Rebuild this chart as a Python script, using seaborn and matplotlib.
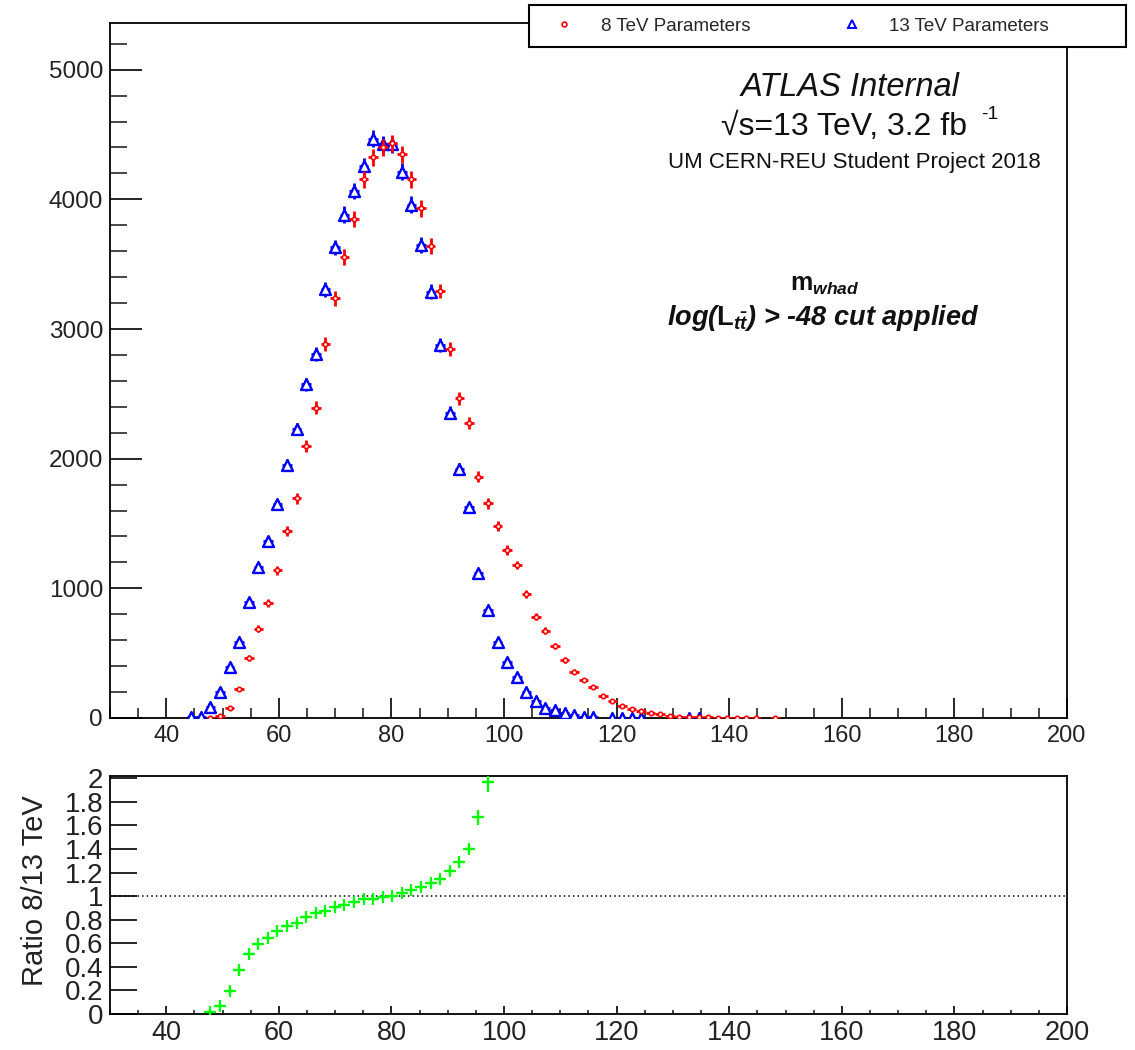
import numpy as np
import pandas as pd
import matplotlib
matplotlib.use("Agg")
import matplotlib.pyplot as plt
import seaborn as sns
from matplotlib.lines import Line2D
from matplotlib.patches import Rectangle
from matplotlib.ticker import MultipleLocator, FuncFormatter

# histogram binning: 100 bins between 30 and 200
BIN_LO, BIN_W = 30.0, 1.7

# m_whad counts, 8 TeV parameters (first bin index 10)
red_first_bin = 10
red_counts = [2, 15, 77, 223, 461, 689, 887, 1138, 1443, 1694,
              2100, 2393, 2884, 3236, 3556, 3847, 4153, 4323, 4400, 4431,
              4346, 4153, 3930, 3639, 3293, 2843, 2464, 2277, 1860, 1655,
              1481, 1295, 1180, 956, 781, 673, 556, 449, 357, 293,
              236, 172, 133, 93, 67, 54, 40, 28, 15, 10,
              10, 10, 8, 3, 3, 2, 2, 2, np.nan, 1]

# m_whad counts, 13 TeV parameters (first bin index 8)
blue_first_bin = 8
blue_counts = [10, 10, 87, 203, 396, 588, 897, 1166, 1366, 1650,
               1950, 2226, 2575, 2807, 3308, 3629, 3883, 4065, 4256, 4469,
               4423, 4425, 4212, 3960, 3647, 3287, 2875, 2354, 1924, 1627,
               1120, 832, 583, 434, 316, 197, 133, 79, 64, 36,
               23, 10, 10, np.nan, 3, 2, 2, 2, np.nan, np.nan,
               np.nan, np.nan, 1, 1]

# ratio 8/13 TeV (first bin index 10), only the bins inside [0, 2]
ratio_first_bin = 10
ratio_vals = [0.02, 0.07, 0.195, 0.37, 0.51, 0.59, 0.645, 0.70, 0.75, 0.77,
              0.82, 0.855, 0.874, 0.908, 0.925, 0.953, 0.98, 0.98, 0.995, 1.0,
              1.03, 1.056, 1.078, 1.11, 1.146, 1.21, 1.29, 1.40, 1.67, 1.97]

sns.set_theme(style="ticks")
plt.rcParams["font.family"] = ["Liberation Sans", "DejaVu Sans"]
plt.rcParams["mathtext.fontset"] = "custom"
plt.rcParams["mathtext.rm"] = "Liberation Sans"
plt.rcParams["mathtext.it"] = "Liberation Sans:italic"
plt.rcParams["mathtext.bf"] = "Liberation Sans:bold"
plt.rcParams["mathtext.bfit"] = "Liberation Sans:bold:italic"


def hist_frame(first, counts):
    n = len(counts)
    x = BIN_LO + BIN_W * (np.arange(n) + first + 0.5)
    df = pd.DataFrame({"mass": x, "count": np.asarray(counts, dtype=float)})
    return df.dropna()


red = hist_frame(red_first_bin, red_counts)
blue = hist_frame(blue_first_bin, blue_counts)
ratio = hist_frame(ratio_first_bin, ratio_vals)
# statistical error of the ratio from the two histograms
r_num = np.asarray(red_counts[:len(ratio_vals)], dtype=float)
off = ratio_first_bin - blue_first_bin
r_den = np.asarray(blue_counts[off:off + len(ratio_vals)], dtype=float)
ratio["err"] = ratio["count"].values * np.sqrt(1 / r_num + 1 / r_den)

fig = plt.figure(figsize=(11.35, 10.5), dpi=100)
ax = fig.add_axes([0.0969, 0.3162, 0.8432, 0.6619])
axr = fig.add_axes([0.0969, 0.0343, 0.8432, 0.2267])

# ---- main panel
ax.errorbar(blue["mass"], blue["count"], xerr=BIN_W / 2, yerr=np.sqrt(blue["count"]),
            fmt="none", ecolor="blue", elinewidth=2.0, capsize=0, zorder=2)
sns.scatterplot(data=blue, x="mass", y="count", marker="^", s=62, color="white",
                edgecolor="blue", linewidth=1.7, ax=ax, zorder=3)
ax.errorbar(red["mass"], red["count"], xerr=BIN_W / 2, yerr=np.sqrt(red["count"]),
            fmt="none", ecolor="red", elinewidth=2.0, capsize=0, zorder=4)
sns.scatterplot(data=red, x="mass", y="count", marker="o", s=10, color="white",
                edgecolor="red", linewidth=1.2, ax=ax, zorder=5)

ax.set_xlim(30, 200)
ax.set_ylim(0, 5360)
ax.set_xlabel("")
ax.set_ylabel("")
ax.xaxis.set_major_locator(MultipleLocator(20))
ax.xaxis.set_minor_locator(MultipleLocator(5))
ax.yaxis.set_major_locator(MultipleLocator(1000))
ax.yaxis.set_minor_locator(MultipleLocator(200))
ax.tick_params(axis="x", which="major", direction="in", length=14.4, width=1.2,
               labelsize=17, pad=5, color="black", labelcolor="#222222")
ax.tick_params(axis="x", which="minor", direction="in", length=7.2, width=1.2)
ax.tick_params(axis="y", which="major", direction="in", length=23, width=1.2,
               labelsize=17.5, pad=5, color="black", labelcolor="#222222")
ax.tick_params(axis="y", which="minor", direction="in", length=12, width=1.2)
for sp in ax.spines.values():
    sp.set_visible(True)
    sp.set_color("black")
    sp.set_linewidth(1.3)

# ---- ratio panel
axr.axhline(1.0, color="black", ls=(0, (1, 2)), lw=1.1, zorder=1)
axr.errorbar(ratio["mass"], ratio["count"], xerr=BIN_W / 2, yerr=ratio["err"],
             fmt="none", ecolor="#00ff00", elinewidth=1.6, capsize=0, zorder=2)
sns.scatterplot(data=ratio, x="mass", y="count", marker="+", s=80, color="#00ff00",
                linewidth=1.6, ax=axr, zorder=3)
axr.set_xlim(30, 200)
axr.set_ylim(0, 2.02)
axr.set_xlabel("")
axr.set_ylabel("")
axr.set_yticks(np.arange(0, 2.01, 0.2))
axr.yaxis.set_major_formatter(FuncFormatter(lambda v, p: "%g" % round(v, 1)))
axr.xaxis.set_major_locator(MultipleLocator(20))
axr.xaxis.set_minor_locator(MultipleLocator(5))
axr.tick_params(axis="x", which="major", direction="in", length=5.5, width=1.2,
                labelsize=19.5, pad=4, color="black", labelcolor="#222222")
axr.tick_params(axis="x", which="minor", direction="in", length=3, width=1.2)
axr.tick_params(axis="y", which="major", direction="in", length=19.5, width=1.2,
                labelsize=20, pad=5, color="black", labelcolor="#222222")
for sp in axr.spines.values():
    sp.set_visible(True)
    sp.set_color("black")
    sp.set_linewidth(1.3)
fig.text(0.0308, 0.1514, "Ratio 8/13 TeV", rotation=90, ha="center", va="center",
         fontsize=21, color="#222222")

# ---- legend box on top of the frame
fig.add_artist(Rectangle((0.4661, 0.9552), 0.526, 0.04, transform=fig.transFigure,
                         facecolor="white", edgecolor="black", lw=1.5, zorder=4))
handles = [Line2D([], [], ls="none", marker="o", ms=3.5, mfc="white", mec="red", mew=1.2),
           Line2D([], [], ls="none", marker="^", ms=6, mfc="white", mec="blue", mew=1.4)]
fig.legend(handles, ["8 TeV Parameters", "13 TeV Parameters"], ncol=2,
           loc="center left", bbox_to_anchor=(0.4886, 0.9752), frameon=False,
           borderpad=0, borderaxespad=0, handlelength=1.0, handletextpad=1.47,
           columnspacing=4.9, fontsize=13.5).set_zorder(5)

# ---- labels
fig.text(0.7489, 0.9162, "ATLAS Internal", style="italic", fontsize=23.5,
         ha="center", va="center", color="#111111")
fig.text(0.7436, 0.879, "\u221as=13 TeV, 3.2 fb", fontsize=23,
         ha="center", va="center", color="#111111")
fig.text(0.8722, 0.8905, "-1", fontsize=14, ha="center", va="center", color="#111111")
fig.text(0.7524, 0.8457, "UM CERN-REU Student Project 2018", fontsize=16,
         ha="center", va="center", color="#111111")
fig.text(0.7269, 0.7286, r"$\mathbf{m}_{\mathbfit{whad}}$", fontsize=18,
         ha="center", va="center", color="#111111")
fig.text(0.7251, 0.6971,
         r"log($\mathbf{L}_{\mathbfit{t\bar{t}}}$) > -48 cut applied",
         fontsize=19.5, fontweight="bold", style="italic",
         ha="center", va="center", color="#111111")

fig.savefig("out.png", dpi=100)
